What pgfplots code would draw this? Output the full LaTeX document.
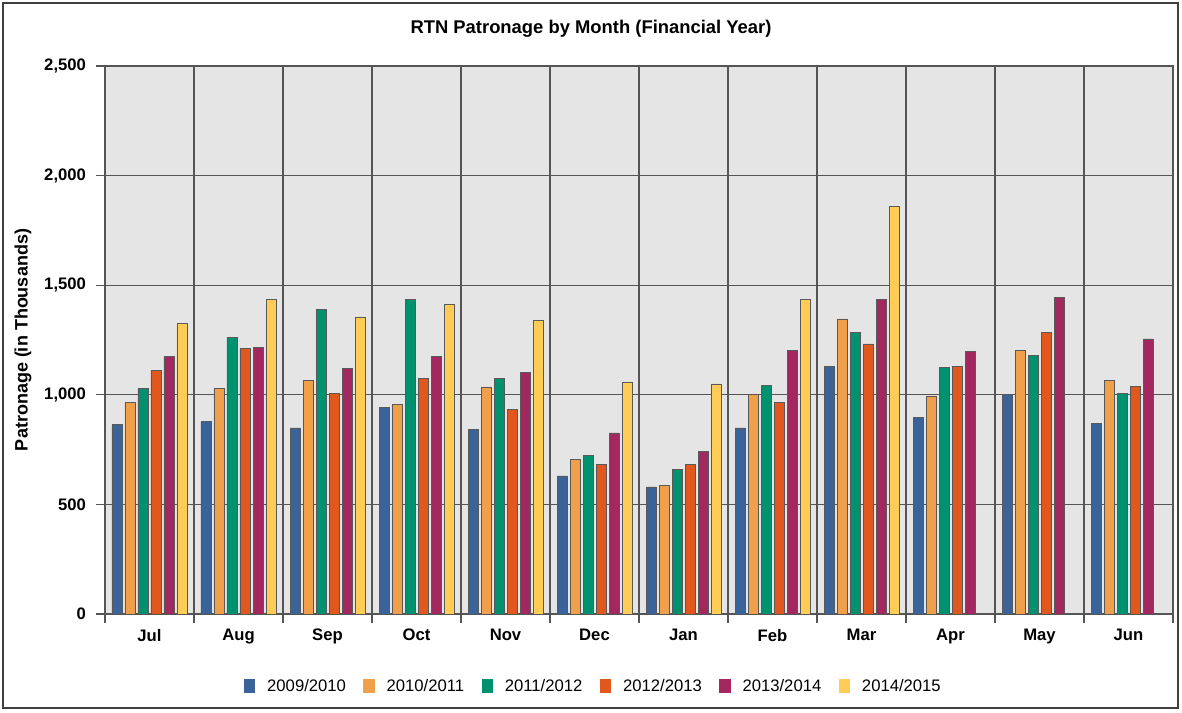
\documentclass[border=0pt]{standalone}
\usepackage{pgfplots}
\pgfplotsset{compat=1.18}
\usepackage{fontspec}
\setmainfont{Liberation Sans}

\definecolor{cBlue}{HTML}{3A6499}
\definecolor{cOrange}{HTML}{F0A04B}
\definecolor{cGreen}{HTML}{00916E}
\definecolor{cRed}{HTML}{E0581E}
\definecolor{cPurple}{HTML}{A3285F}
\definecolor{cYellow}{HTML}{FFCC55}
\definecolor{plotbg}{HTML}{E5E5E5}
\definecolor{gridc}{HTML}{555555}

\begin{document}
\begin{tikzpicture}[x=0.75pt,y=0.75pt]
  % whole picture: 1182 x 713 px, axis origin at px (105,614)
  \useasboundingbox (-105,-99) rectangle (1077,614);
  \draw[black!75,line width=0.9pt] (-102,-94) rectangle (1073,611);
  \begin{axis}[
      at={(0,0)}, anchor=south west,
      scale only axis,
      width=801pt, height=411pt,
      ybar=2.25pt,
      bar width=7.5pt,
      xmin=-0.5, xmax=11.5,
      ymin=0, ymax=2500,
      enlargelimits=false,
      xtick pos=lower, ytick pos=left,
      xtick={0,...,11},
      xticklabels={Jul,Aug,Sep,Oct,Nov,Dec,Jan,Feb,Mar,Apr,May,Jun},
      major x tick style={draw=none},
      minor xtick={-0.5,0.5,...,11.5},
      minor x tick style={gridc, line width=0.8pt},
      minor tick length=6.75pt,
      xminorgrids=true,
      ytick={0,500,...,2500},
      ymajorgrids=true,
      grid style={gridc, line width=0.8pt},
      tick align=outside,
      major tick length=6.75pt,
      y tick style={gridc, line width=0.8pt},
      axis line style={gridc, line width=0.9pt},
      axis background/.style={fill=plotbg},
      scaled y ticks=false,
      /pgf/number format/1000 sep={,},
      /pgf/number format/assume math mode=true,
      ticklabel style={font=\fontsize{12.5}{14}\selectfont\bfseries},
      yticklabel style={xshift=-4pt},
      xticklabel style={yshift=-1pt},
      title={RTN Patronage by Month (Financial Year)},
      title style={font=\fontsize{13.8}{16}\selectfont\bfseries,
        at={(axis description cs:0.5,1)}, anchor=center, yshift=22pt, xshift=-36pt},
      ylabel={Patronage (in Thousands)},
      ylabel style={font=\fontsize{13.5}{16}\selectfont\bfseries,
        at={(axis description cs:-0.0768,0.5)}, anchor=center},
      legend columns=6,
      legend style={at={(axis description cs:0.5,0)}, anchor=center,
        yshift=-54pt, xshift=-34pt, draw=none, fill=none,
        font=\fontsize{12.5}{14}\selectfont,
        /tikz/every odd column/.append style={column sep=7pt},
        /tikz/every even column/.append style={column sep=11pt}},
      legend image code/.code={\fill[#1,draw=none] (0pt,-5pt) rectangle (8.5pt,5.5pt);},
      every axis plot/.append style={draw=black!65, line width=0.5pt},
  ]
    % 2009/2010
    \addplot[fill=cBlue] coordinates {
      (0,863) (1,878) (2,849) (3,943) (4,841) (5,630)
      (6,580) (7,849) (8,1130) (9,895) (10,1000) (11,870)};
    % 2010/2011
    \addplot[fill=cOrange] coordinates {
      (0,964) (1,1029) (2,1065) (3,956) (4,1036) (5,704)
      (6,588) (7,1000) (8,1346) (9,995) (10,1203) (11,1066)};
    % 2011/2012
    \addplot[fill=cGreen] coordinates {
      (0,1029) (1,1260) (2,1391) (3,1434) (4,1073) (5,725)
      (6,660) (7,1044) (8,1283) (9,1123) (10,1181) (11,1008)};
    % 2012/2013
    \addplot[fill=cRed] coordinates {
      (0,1110) (1,1210) (2,1008) (3,1073) (4,935) (5,681)
      (6,683) (7,964) (8,1232) (9,1130) (10,1283) (11,1038)};
    % 2013/2014
    \addplot[fill=cPurple] coordinates {
      (0,1174) (1,1217) (2,1122) (3,1174) (4,1103) (5,826)
      (6,740) (7,1204) (8,1434) (9,1196) (10,1444) (11,1255)};
    % 2014/2015 (to March)
    \addplot[fill=cYellow] coordinates {
      (0,1326) (1,1434) (2,1355) (3,1412) (4,1341) (5,1059)
      (6,1050) (7,1434) (8,1860)};
    \legend{2009/2010,2010/2011,2011/2012,2012/2013,2013/2014,2014/2015}
  \end{axis}
\end{tikzpicture}
\end{document}
